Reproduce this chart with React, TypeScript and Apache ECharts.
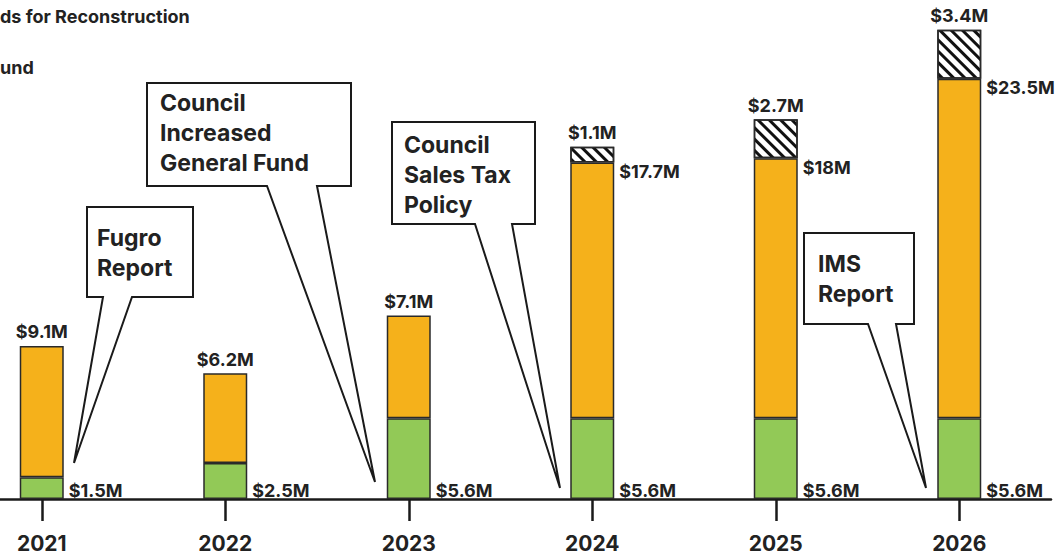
import React, { useEffect, useRef } from "react";
import * as echarts from "echarts";

const years = ["2021", "2022", "2023", "2024", "2025", "2026"];
const generalFund = [1.5, 2.5, 5.6, 5.6, 5.6, 5.6];
const reconstructionFunds = [9.1, 6.2, 7.1, 17.7, 18, 23.5];
const unfunded: (number | null)[] = [null, null, null, 1.1, 2.7, 3.4];
const legendTexts = ["ds for Reconstruction", "und"];
const callouts = [
  { text: "Fugro\nReport" },
  { text: "Council\nIncreased\nGeneral Fund" },
  { text: "Council\nSales Tax\nPolicy" },
  { text: "IMS\nReport" },
];

const FONT = "Inter, 'Open Sans', sans-serif";
const INK = "#222222";
const SHIFT = 50; // chart div extends 50px left of the page edge

function calloutShape(L: number, T: number, R: number, B: number, tl: number, tr: number, tip: [number, number]) {
  const s = (x: number) => x + SHIFT;
  return [[s(L), T], [s(R), T], [s(R), B], [s(tr), B], [s(tip[0]), tip[1]], [s(tl), B], [s(L), B]];
}

export default function App() {
  const ref = useRef<HTMLDivElement>(null);
  useEffect(() => {
    if (!ref.current) return;
    const chart = echarts.init(ref.current, undefined, { renderer: "svg" });
    const fmt = (p: any) => "$" + p.value + "M";
    const baseLabel = { show: true, color: INK, fontFamily: FONT, fontWeight: "bold" as const, fontSize: 18 };
    const borderStyle = { borderColor: "#2a2a2a", borderWidth: 1.5 };

    const geom = [
      { box: [87, 207, 193, 297], tail: [103, 132], tip: [74, 463] as [number, number], tx: 97, ty: 223 },
      { box: [147, 83, 351, 186], tail: [267, 317], tip: [375, 482] as [number, number], tx: 160, ty: 88 },
      { box: [392, 122, 535, 224], tail: [475, 512], tip: [560, 488] as [number, number], tx: 404, ty: 130 },
      { box: [804, 233, 914, 324], tail: [868, 896], tip: [926, 488] as [number, number], tx: 818, ty: 249 },
    ];

    const graphics: any[] = [];
    callouts.forEach((c, i) => {
      const g = geom[i];
      graphics.push({
        type: "polygon",
        z: 10,
        shape: { points: calloutShape(g.box[0], g.box[1], g.box[2], g.box[3], g.tail[0], g.tail[1], g.tip) },
        style: { fill: "#ffffff", stroke: "#1a1a1a", lineWidth: 2, lineJoin: "miter" },
      });
      graphics.push({
        type: "text",
        z: 11,
        x: g.tx + SHIFT,
        y: g.ty,
        style: {
          text: c.text,
          fill: INK,
          fontFamily: FONT,
          fontWeight: "bold",
          fontSize: 23,
          lineHeight: 30,
          verticalAlign: "top",
          align: "left",
        },
      });
    });
    graphics.push({
      type: "text", x: SHIFT, y: 16,
      style: { text: legendTexts[0], fill: INK, fontFamily: FONT, fontWeight: "bold", fontSize: 18, verticalAlign: "middle" },
    });
    graphics.push({
      type: "text", x: SHIFT, y: 67,
      style: { text: legendTexts[1], fill: INK, fontFamily: FONT, fontWeight: "bold", fontSize: 18, verticalAlign: "middle" },
    });

    chart.setOption({
      animation: false,
      backgroundColor: "#ffffff",
      grid: { left: 0, right: 8, top: 8, bottom: 58, containLabel: false },
      xAxis: {
        type: "category",
        data: years,
        splitLine: { show: false },
        axisLine: { show: true, lineStyle: { color: "#1a1a1a", width: 2.5 } },
        axisTick: { show: true, alignWithLabel: true, length: 22, lineStyle: { color: "#1a1a1a", width: 2.5 } },
        axisLabel: {
          show: true,
          color: INK,
          fontFamily: FONT,
          fontWeight: "bold",
          fontSize: 21,
          margin: 34,
        },
      },
      yAxis: {
        type: "value",
        min: 0,
        max: 34,
        show: false,
        splitLine: { show: false },
      },
      series: [
        {
          name: "General Fund",
          type: "bar",
          stack: "total",
          barWidth: 44,
          itemStyle: { color: "#92C957", ...borderStyle },
          label: {
            ...baseLabel,
            position: ["100%", "100%"],
            align: "left",
            verticalAlign: "bottom",
            offset: [5, 0],
            formatter: fmt,
          },
          data: generalFund,
        },
        {
          name: "Funds for Reconstruction",
          type: "bar",
          stack: "total",
          barWidth: 44,
          itemStyle: { color: "#F5B11B", ...borderStyle },
          label: { ...baseLabel, formatter: fmt },
          data: reconstructionFunds.map((v, i) => ({
            value: v,
            label:
              unfunded[i] == null
                ? { position: "top", distance: 5 }
                : { position: ["100%", 0], align: "left", verticalAlign: "top", offset: [5, 0] },
          })),
        },
        {
          name: "Unfunded",
          type: "bar",
          stack: "total",
          barWidth: 44,
          itemStyle: {
            color: "#ffffff",
            ...borderStyle,
            decal: {
              symbol: "rect",
              symbolSize: 1,
              color: "#111111",
              backgroundColor: "#ffffff",
              dashArrayX: [1, 0],
              dashArrayY: [3, 5],
              rotation: Math.PI / 4,
            },
          },
          label: { ...baseLabel, position: "top", distance: 5, formatter: fmt },
          data: unfunded.map((v) => (v == null ? "-" : v)),
        },
      ],
      graphic: graphics,
    });
    return () => chart.dispose();
  }, []);
  return (
    <div style={{ position: "fixed", left: 0, top: 0, width: 1059, height: 557, overflow: "hidden", background: "#fff" }}>
      <div
        ref={ref}
        style={{ position: "absolute", left: -SHIFT, top: 0, width: 1059 + SHIFT, height: 557 }}
      />
    </div>
  );
}
